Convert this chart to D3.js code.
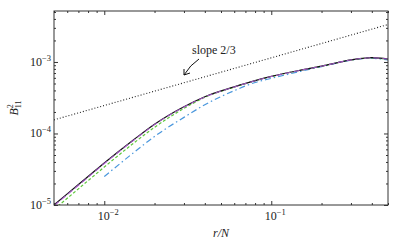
<!DOCTYPE html>
<html>
<head>
<meta charset="utf-8">
<script src="https://cdn.jsdelivr.net/npm/d3@7"></script>
<style>
  body { margin: 0; background: #fff; }
  svg text { font-family: "Liberation Serif", "DejaVu Serif", serif; fill: #222; }
</style>
</head>
<body>
<div id="chart"></div>
<script>
// r/N sample points
var rValues = [0.005, 0.006, 0.008, 0.01, 0.015, 0.02, 0.03, 0.04, 0.06, 0.08, 0.1, 0.15, 0.2, 0.3, 0.35, 0.4, 0.45, 0.5];
var blackSeries = [1.0e-5, 1.43e-5, 2.5e-5, 3.87e-5, 8.18e-5, 1.35e-4, 2.37e-4, 3.27e-4, 4.49e-4, 5.49e-4, 6.28e-4, 7.69e-4, 8.75e-4, 1.07e-3, 1.125e-3, 1.15e-3, 1.13e-3, 1.10e-3];
var purpleSeries = [0.98e-5, 1.4e-5, 2.45e-5, 3.8e-5, 8.05e-5, 1.33e-4, 2.34e-4, 3.24e-4, 4.46e-4, 5.46e-4, 6.25e-4, 7.66e-4, 8.72e-4, 1.066e-3, 1.12e-3, 1.146e-3, 1.127e-3, 1.098e-3];
var greenSeries = [0.87e-5, 1.24e-5, 2.19e-5, 3.39e-5, 7.33e-5, 1.22e-4, 2.24e-4, 3.2e-4, 4.45e-4, 5.46e-4, 6.26e-4, 7.67e-4, 8.73e-4, 1.065e-3, 1.118e-3, 1.14e-3, 1.12e-3, 1.09e-3];
var blueR = [0.01, 0.015, 0.02, 0.03, 0.04, 0.06, 0.08, 0.1, 0.15, 0.2, 0.3, 0.35, 0.4, 0.45, 0.5];
var blueSeries = [2.5e-5, 5.4e-5, 9.1e-5, 1.68e-4, 2.52e-4, 3.97e-4, 5.16e-4, 5.9e-4, 7.4e-4, 8.6e-4, 1.06e-3, 1.11e-3, 1.13e-3, 1.1e-3, 1.07e-3];
var slopeR = [0.005, 0.5];
var slopeSeries = [1.55e-4, 1.55e-4 * Math.pow(100, 2 / 3)];
var xTickExps = [-2, -1];
var yTickExps = [-5, -4, -3];

var width = 399, height = 247;
var margin = { top: 11, right: 11, bottom: 42, left: 54 };
var w = width - margin.left - margin.right;
var h = height - margin.top - margin.bottom;

var svg = d3.select('#chart').append('svg')
    .attr('width', width)
    .attr('height', height);
var g = svg.append('g')
    .attr('transform', 'translate(' + margin.left + ',' + margin.top + ')');

var x = d3.scaleLog().domain([0.005, 0.5]).range([0, w]);
var y = d3.scaleLog().domain([1e-5, 5.16e-3]).range([h, 0]);

g.append('clipPath').attr('id', 'clip')
  .append('rect').attr('width', w).attr('height', h);

function lineOf(xs, ys) {
    return d3.line()
        .x(function (d, i) { return x(xs[i]); })
        .y(function (d) { return y(d); })
        .curve(d3.curveMonotoneX)(ys);
}

var plot = g.append('g').attr('clip-path', 'url(#clip)');
plot.append('path').attr('d', lineOf(slopeR, slopeSeries))
    .attr('fill', 'none').attr('stroke', '#222').attr('stroke-width', 1.1)
    .attr('stroke-dasharray', '1,2');
plot.append('path').attr('d', lineOf(blueR, blueSeries))
    .attr('fill', 'none').attr('stroke', '#4a97dd').attr('stroke-width', 1.2)
    .attr('stroke-dasharray', '6,3,1.5,3');
plot.append('path').attr('d', lineOf(rValues, greenSeries))
    .attr('fill', 'none').attr('stroke', '#5ec73c').attr('stroke-width', 1.2)
    .attr('stroke-dasharray', '3,2');
plot.append('path').attr('d', lineOf(rValues, blackSeries))
    .attr('fill', 'none').attr('stroke', '#111').attr('stroke-width', 1.2);
plot.append('path').attr('d', lineOf(rValues, purpleSeries))
    .attr('fill', 'none').attr('stroke', '#a257c4').attr('stroke-width', 1.1)
    .attr('stroke-dasharray', '6,3');

// axes: ticks inside on all four sides
function styleAxis(sel) {
    sel.select('.domain').remove();
    sel.selectAll('line').attr('stroke', '#333');
    sel.selectAll('text').remove();
}
var xMinor = x.ticks().filter(function (d) { return Math.abs(Math.log10(d) % 1) > 1e-6; });
var yMinor = y.ticks().filter(function (d) { return Math.abs(Math.log10(d) % 1) > 1e-6; });
var xMajor = xTickExps.map(function (e) { return Math.pow(10, e); });
var yMajor = yTickExps.map(function (e) { return Math.pow(10, e); });

[[d3.axisBottom, h], [d3.axisTop, 0]].forEach(function (a) {
    g.append('g').attr('transform', 'translate(0,' + a[1] + ')')
        .call(a[0](x).tickValues(xMajor).tickSize(-4)).call(styleAxis);
    g.append('g').attr('transform', 'translate(0,' + a[1] + ')')
        .call(a[0](x).tickValues(xMinor).tickSize(-2)).call(styleAxis);
});
[[d3.axisLeft, 0], [d3.axisRight, w]].forEach(function (a) {
    g.append('g').attr('transform', 'translate(' + a[1] + ',0)')
        .call(a[0](y).tickValues(yMajor).tickSize(-4)).call(styleAxis);
    g.append('g').attr('transform', 'translate(' + a[1] + ',0)')
        .call(a[0](y).tickValues(yMinor).tickSize(-2)).call(styleAxis);
});

g.append('rect').attr('width', w).attr('height', h)
    .attr('fill', 'none').attr('stroke', '#333').attr('stroke-width', 1);

function powLabel(sel, e) {
    sel.append('tspan').text('10');
    sel.append('tspan').text('\u2212' + Math.abs(e))
        .attr('font-size', '8.5px').attr('dy', '-5');
}
xTickExps.forEach(function (e) {
    g.append('text').attr('x', x(Math.pow(10, e)) + 4).attr('y', h + 15)
        .attr('font-size', '12px').attr('text-anchor', 'middle')
        .call(powLabel, e);
});
yTickExps.forEach(function (e) {
    g.append('text').attr('x', -3).attr('y', y(Math.pow(10, e)) + 4)
        .attr('font-size', '12px').attr('text-anchor', 'end')
        .call(powLabel, e);
});

// axis labels
g.append('text').attr('x', w / 2).attr('y', h + 32)
    .attr('font-size', '12px').attr('text-anchor', 'middle')
    .attr('font-style', 'italic').text('r/N');
var yl = svg.append('text')
    .attr('transform', 'translate(18,' + (margin.top + h / 2) + ') rotate(-90)')
    .attr('font-size', '12px').attr('text-anchor', 'middle');
yl.append('tspan').attr('font-style', 'italic').text('B');
yl.append('tspan').attr('font-size', '8px').attr('dy', '-5').text('2');
yl.append('tspan').attr('font-size', '8px').attr('dx', '-4').attr('dy', '8').text('11');

// annotation
g.append('text').attr('x', 192 - margin.left).attr('y', 54 - margin.top)
    .attr('font-size', '12px').text('slope 2/3');
g.append('path')
    .attr('d', 'M' + (199 - margin.left) + ',' + (59 - margin.top) +
        ' Q' + (190 - margin.left) + ',' + (65 - margin.top) + ' ' + (184 - margin.left) + ',' + (75 - margin.top))
    .attr('fill', 'none').attr('stroke', '#111').attr('stroke-width', 1);
g.append('path')
    .attr('d', 'M' + (184 - margin.left) + ',' + (69 - margin.top) +
        ' L' + (184 - margin.left) + ',' + (75 - margin.top) +
        ' L' + (190 - margin.left) + ',' + (73 - margin.top))
    .attr('fill', 'none').attr('stroke', '#111').attr('stroke-width', 1);
</script>
</body>
</html>
